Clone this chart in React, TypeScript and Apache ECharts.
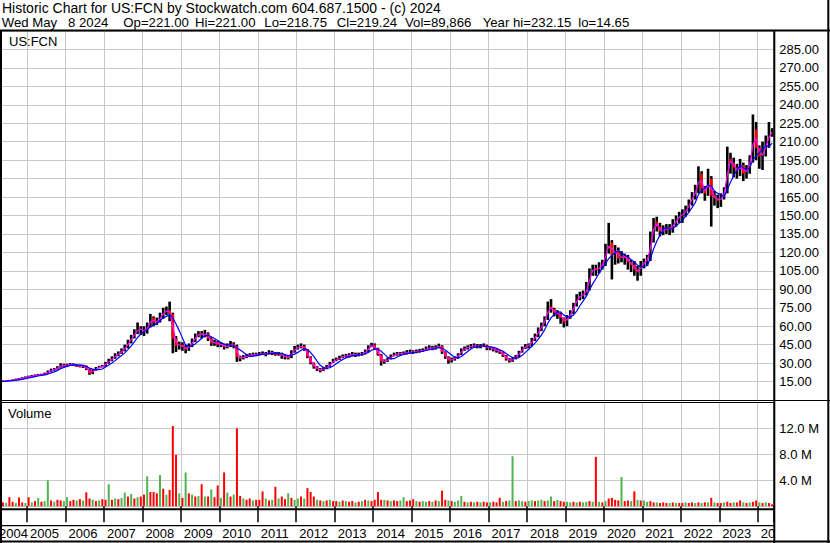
import React, { useEffect, useRef } from "react";
import * as echarts from "echarts";

// ---- data (monthly, May 2004 .. May 2024) ----
const START_YEAR = 2004;
const START_MONTH = 5; // May

const closes = [
  // 2004 (May-Dec)
  15.2, 15.5, 15.9, 16.2, 16.8, 17.3, 17.9, 18.6,
  // 2005
  19.0, 19.5, 20.0, 20.5, 20.5, 21.5, 23.0, 24.5, 25.0, 26.5, 28.5, 28.0,
  // 2006
  28.5, 29.0, 28.5, 28.0, 27.5, 27.5, 25.0, 21.5, 24.0, 26.0, 27.0, 27.5,
  // 2007
  30, 32, 34, 36.5, 38, 40, 43, 47, 51, 55, 58, 57,
  // 2008
  56, 60, 67, 63, 64, 68, 72, 73, 70, 50, 44, 45,
  // 2009
  43, 41, 44, 48, 52, 54, 53, 54, 50, 46, 47, 45,
  // 2010
  45.5, 43, 44, 46, 44, 35, 34, 35, 36, 36.5, 37, 37.2,
  // 2011
  37.5, 38, 37, 39, 38, 37.5, 37.8, 36, 35, 34.5, 39, 42,
  // 2012
  43, 44, 41, 35, 30, 27, 25, 24, 25.5, 27, 30, 32,
  // 2013
  33, 34.5, 35.5, 36, 36.2, 37.5, 36.5, 37, 37.5, 39.5, 43, 45,
  // 2014
  42, 37, 31, 31.5, 33, 35.5, 37, 37.5, 37.8, 38, 38.5, 39,
  // 2015
  39.2, 39.5, 40, 40.5, 42, 42.5, 42, 43, 44, 39, 35, 32,
  // 2016
  33, 34, 37, 41, 42, 43, 44, 44.2, 43.5, 44, 44.5, 42,
  // 2017
  42.5, 41, 40, 39, 36, 33, 32, 33, 35.5, 39, 42, 44,
  // 2018
  44.5, 49, 52, 57, 61, 66, 76, 74, 71, 70, 67, 63,
  // 2019
  67, 71, 77, 83, 85, 86, 90, 104, 107, 106, 108, 111,
  // 2020
  122, 128, 118, 122, 115, 117, 116, 112, 110, 106, 104, 110,
  // 2021
  112, 115, 132, 145, 141, 137, 138, 140, 139, 143, 147, 150,
  // 2022
  151, 155, 160, 166, 170, 184, 172, 168, 180, 166, 164, 162,
  // 2023
  164, 170, 196, 193, 189, 186, 191, 184, 187, 195, 220, 205,
  // 2024 (Jan-May)
  198, 200, 211, 216, 219.24,
];

const highs = [
  15.8, 16.0, 16.4, 16.8, 17.4, 17.9, 18.5, 19.2,
  19.8, 20.3, 20.8, 21.2, 21.4, 22.3, 24.0, 25.5, 26.0, 27.5, 29.8, 29.5,
  29.5, 30.0, 29.8, 29.2, 28.8, 28.6, 28.0, 25.5, 25.0, 26.8, 27.8, 28.5,
  31, 33.5, 35.5, 38, 39.5, 42, 45, 49, 53, 57.5, 63, 60,
  60, 63, 70, 68, 67, 71, 75, 76, 80, 71, 52, 47.5,
  47, 45, 46, 50, 54, 56, 56, 57, 55, 51, 49, 48,
  47, 46, 46, 48, 47, 45, 36, 36.5, 37.5, 38, 38.5, 38.5,
  39, 39.5, 39, 40.5, 40, 39, 39, 38.5, 37, 36.5, 40.5, 44,
  45, 46, 45, 41.5, 35.5, 30.5, 27.5, 26, 27, 28.5, 31, 33.5,
  34.5, 36, 37, 37.5, 38, 39, 38.5, 38.5, 39, 41, 44.5, 46.5,
  46, 42.5, 37.5, 33, 34.5, 37, 38.5, 39, 39, 39.5, 40.5, 41,
  40.5, 41, 41.5, 42, 43.5, 44.5, 44, 44.5, 45.8, 44.5, 39.5, 35.5,
  34.5, 35.5, 38, 42, 43.5, 44.5, 45.5, 46, 45.5, 45.5, 46, 45,
  43.5, 43, 41.5, 40.5, 39.5, 36.5, 34, 34.5, 36.5, 40, 43.5, 45.5,
  46, 50.5, 54, 59, 63, 68, 80, 82, 75, 73, 71, 67,
  69, 73, 79, 86, 88, 89, 96, 107, 110, 110, 112, 114,
  127, 144, 130, 126, 124, 121, 119, 118, 114, 113, 109, 113,
  115, 118, 137, 148, 149, 144, 142, 143, 143, 147, 150, 153,
  155, 158, 163, 169, 175, 190, 186, 174, 188, 182, 170, 167,
  168, 173, 206, 201, 197, 192, 196, 193, 191, 199, 232.15, 226,
  207, 210, 215, 226, 221,
];

const lows = [
  14.65, 14.9, 15.2, 15.6, 16.0, 16.5, 17.0, 17.6,
  18.2, 18.8, 19.2, 19.6, 19.6, 20.2, 21.2, 22.8, 23.8, 24.8, 26.3, 26.8,
  27.2, 27.8, 27.5, 27.0, 26.5, 26.0, 24.3, 20.5, 21.0, 23.8, 25.8, 26.5,
  27, 29.5, 31.5, 33.5, 35.5, 37.5, 39.5, 42, 46, 50, 53.5, 53,
  52, 54, 59, 60, 61, 63, 66, 69, 64, 38, 39, 41,
  40, 38, 40, 43, 47, 51, 50, 51, 48, 44, 44, 43,
  43, 41, 42, 43, 42, 31, 31.5, 33, 34, 35, 35.5, 35.5,
  36, 36.5, 35.5, 37, 36.5, 36, 36, 33.5, 33, 33, 34, 38.5,
  41, 42, 40, 34, 29, 25.5, 23.5, 22.5, 23.5, 25, 27, 30,
  31.5, 32.5, 34, 34.5, 34.5, 35.5, 35, 35.5, 36, 37, 39, 43,
  41, 36, 28, 29.5, 31, 33, 35.5, 36, 36, 36.5, 37, 37.5,
  37.5, 38, 38.5, 39, 40, 41, 40.5, 41, 42, 37.5, 33.5, 29.5,
  30.5, 32, 33.5, 36.5, 40, 41, 42, 42.5, 42, 42, 43, 40.5,
  40.5, 39.5, 38.5, 37.5, 35, 32, 30.5, 31, 33, 35, 38.5, 41.5,
  42, 43.5, 48, 51, 56, 60, 65, 71, 68, 66, 62, 59,
  60, 66, 70, 76, 81, 82, 85, 89, 101, 101, 103, 106,
  109, 119, 98, 110, 111, 112, 110, 106, 104, 101, 97, 101,
  107, 109, 113, 128, 137, 133, 134, 135, 134, 136, 141, 144,
  144, 149, 153, 158, 163, 168, 168, 162, 166, 141, 158, 156,
  157, 163, 168, 184, 181, 180, 182, 178, 180, 184, 193, 195,
  188, 187, 198, 205, 214,
];

// volume in millions of shares
const volumes = [
  0.6, 0.5, 1.4, 0.7, 0.5, 1.35, 0.6, 0.5,
  1.4, 0.6, 0.8, 1.3, 0.7, 0.8, 4.0, 0.9, 0.7, 1.0, 0.9, 0.8,
  1.4, 0.8, 1.0, 0.9, 1.1, 0.9, 2.15, 1.2, 1.0, 0.8, 0.9, 1.1,
  1.0, 3.4, 1.0, 1.2, 1.1, 1.3, 2.1, 1.5, 1.9, 1.2, 1.4, 1.5,
  1.8, 4.6, 2.2, 2.2, 2.0, 4.8, 2.7, 1.8, 2.5, 12.35, 7.9, 2.0,
  1.3, 5.2, 2.0, 1.8, 1.5, 1.6, 3.4, 1.5, 1.5, 2.6, 1.4, 3.2,
  1.3, 5.2, 2.1, 1.5, 1.8, 12.0, 1.6, 1.2, 1.0, 1.2, 0.9, 1.0,
  1.0, 2.3, 1.2, 0.9, 1.0, 3.0, 1.2, 1.5, 1.1, 2.0, 1.3, 1.0,
  1.2, 1.5, 1.2, 2.8, 2.2, 1.5, 1.0, 0.9, 0.8, 0.9, 1.0, 0.8,
  0.8, 0.7, 0.9, 0.8, 0.7, 0.8, 0.6, 0.7, 0.8, 1.0, 0.9, 0.8,
  1.0, 2.2, 1.0, 1.0, 0.9, 0.8, 0.9, 0.8, 0.9, 1.4, 0.8, 0.9,
  1.1, 0.8, 0.7, 0.8, 0.7, 0.8, 0.7, 0.9, 0.8, 2.4, 1.0, 0.9,
  0.8, 0.7, 0.9, 1.6, 0.7, 0.6, 0.7, 0.6, 0.7, 0.6, 0.7, 0.6,
  0.6, 0.7, 0.6, 1.3, 0.7, 0.8, 0.9, 7.7, 0.8, 0.9, 0.8, 0.7,
  0.8, 0.9, 0.8, 0.9, 1.0, 0.8, 0.9, 1.5, 0.8, 1.0, 0.8, 0.7,
  0.7, 0.6, 0.7, 0.6, 0.7, 0.6, 0.7, 0.8, 0.7, 7.6, 0.7, 0.6,
  0.8, 1.2, 1.3, 1.0, 0.9, 4.5, 0.8, 0.9, 0.8, 2.3, 1.0, 0.9,
  0.9, 0.7, 0.8, 0.6, 0.6, 0.5, 0.6, 0.5, 0.5, 0.6, 0.5, 0.5,
  0.5, 0.6, 0.5, 0.6, 0.5, 0.6, 0.5, 0.6, 0.6, 1.3, 0.6, 0.5,
  0.5, 0.6, 0.7, 0.5, 0.6, 0.6, 0.9, 0.6, 0.5, 0.6, 0.7, 0.9,
  0.6, 0.5, 0.6, 0.5, 0.3,
];

// r = down volume bar, g = up volume bar
const volumeDirections = [
  "rgrrgrrg",
  "rgrgrggrgrrg",
  "grrgrgrrgrgr",
  "rgrgrggrgrgr",
  "rgrrrgrgrrrg",
  "rgrgrgrgrgrr",
  "grgrgrrgrrgr",
  "rrgrgrgrrgrg",
  "grgrrrgrgrgr",
  "rgrgrrgrgrgr",
  "rrrgrgrrggrr",
  "rgrggrgrgrrg",
  "rgggrgrgrgrr",
  "grrrgrggrggr",
  "ggrggrggrgrr",
  "ggrgrggrgrgr",
  "grrrrgrrgrgr",
  "ggrrgrrrgrgr",
  "rgrrgrgrgrgr",
  "rgrrgrrgrgrr",
  "grgrr",
].join("");

const FIRST_OPEN = 15.0;
const TITLE_LINE_1 = "Historic Chart for US:FCN by Stockwatch.com 604.687.1500 - (c) 2024";
const QUOTE_FIELDS = [
  "Wed May",
  "8 2024",
  "Op=221.00",
  "Hi=221.00",
  "Lo=218.75",
  "Cl=219.24",
  "Vol=89,866",
  "Year hi=232.15",
  "lo=14.65",
];
const SYMBOL = "US:FCN";
const VOLUME_TITLE = "Volume";

// ---- layout helpers ----
const FONT = '"Liberation Sans", Arial, Helvetica, sans-serif';
const SHIFT = 12; // chart canvas starts 12px left of the page so that Jan 2004 can sit off-screen
const QUOTE_X = [1.7, 68, 123.3, 195, 264.3, 336.7, 405, 482.7, 578.3];

function monthPos(i: number): number {
  return START_YEAR + (START_MONTH - 1 + i + 0.5) / 12;
}

function movingAverage(values: number[], n: number): number[] {
  return values.map((_, i) => {
    const s = Math.max(0, i - n + 1);
    const w = values.slice(s, i + 1);
    return w.reduce((a, b) => a + b, 0) / w.length;
  });
}

function renderPriceBar(_params: any, api: any) {
  const x = api.value(0);
  const o = api.value(1);
  const c = api.value(2);
  const l = api.value(3);
  const h = api.value(4);
  const top = api.coord([x, h]);
  const bottom = api.coord([x, l]);
  const w = 2.6;
  const children: any[] = [
    {
      type: "rect",
      shape: { x: top[0] - w / 2, y: top[1], width: w, height: Math.max(1, bottom[1] - top[1]) },
      style: { fill: "#000000" },
    },
  ];
  if (c < o) {
    const po = api.coord([x, o]);
    const pc = api.coord([x, c]);
    children.push({
      type: "rect",
      shape: { x: po[0] - w / 2, y: po[1], width: w, height: Math.max(1.5, pc[1] - po[1]) },
      style: { fill: "#ff0000" },
    });
  }
  return { type: "group", children };
}

function buildOption() {
  const xs = closes.map((_, i) => monthPos(i));
  const bars = closes.map((c, i) => [
    xs[i],
    i === 0 ? FIRST_OPEN : closes[i - 1],
    c,
    lows[i],
    highs[i],
  ]);
  const maFast = movingAverage(closes, 2);
  const maSlow = movingAverage(closes, 5);
  const volData = volumes.map((v, i) => ({
    value: [xs[i], v],
    itemStyle: { color: volumeDirections[i] === "r" ? "#ff0000" : "#4fb34f" },
  }));

  const X_MIN = 2004;
  const X_MAX = 2024.405;
  const GRID_LEFT = SHIFT - 11.46;
  const GRID_RIGHT = 56.7;
  const gridColor = "#c8c8c8";

  const yearFormatter = (v: number) => {
    const r = Math.round(v);
    if (Math.abs(v - r) > 1e-6) return "";
    return r === X_MIN ? `{f|${r}}` : `{n|${r}}`;
  };

  const line = (x1: number, y1: number, x2: number, y2: number, w: number) => ({
    type: "line",
    silent: true,
    z: 100,
    shape: { x1: x1 + SHIFT, y1, x2: x2 + SHIFT, y2 },
    style: { stroke: "#000", lineWidth: w },
  });
  const text = (t: string, x: number, y: number, size: number, va: string) => ({
    type: "text",
    silent: true,
    z: 101,
    x: x + SHIFT,
    y,
    style: { text: t, font: `${size}px ${FONT}`, fill: "#000", verticalAlign: va },
  });

  return {
    animation: false,
    backgroundColor: "#ffffff",
    grid: [
      { left: GRID_LEFT, right: GRID_RIGHT, top: 31, bottom: 143 },
      { left: GRID_LEFT, right: GRID_RIGHT, top: 402.3, bottom: 36.7 },
    ],
    xAxis: [
      {
        type: "value",
        gridIndex: 0,
        min: X_MIN,
        max: X_MAX,
        interval: 1,
        axisLine: { show: false },
        axisTick: { show: false },
        axisLabel: { show: false },
        splitLine: { show: true, lineStyle: { color: gridColor, width: 1 } },
      },
      {
        type: "value",
        gridIndex: 1,
        min: X_MIN,
        max: X_MAX,
        interval: 1,
        offset: 3,
        axisLine: { show: false },
        axisTick: { show: true, length: 16, lineStyle: { color: "#000", width: 1.5 } },
        axisLabel: {
          show: true,
          margin: 18,
          align: "left",
          formatter: yearFormatter,
          rich: {
            n: { padding: [0, 0, 0, 3], fontSize: 13, fontFamily: FONT, color: "#000" },
            f: { padding: [0, 0, 0, 10.5], fontSize: 13, fontFamily: FONT, color: "#000" },
          },
        },
        splitLine: { show: true, lineStyle: { color: gridColor, width: 1 } },
      },
    ],
    yAxis: [
      {
        type: "value",
        gridIndex: 0,
        position: "right",
        min: 0,
        max: 300,
        interval: 15,
        axisLine: { show: false },
        axisTick: { show: false },
        splitLine: { show: true, lineStyle: { color: gridColor, width: 1 } },
        axisLabel: {
          margin: 6,
          fontSize: 13,
          fontFamily: FONT,
          color: "#000",
          formatter: (v: number) => (v <= 0 || v >= 300 ? "" : v.toFixed(2)),
        },
      },
      {
        type: "value",
        gridIndex: 1,
        position: "right",
        min: 0,
        max: 16,
        interval: 4,
        axisLine: { show: false },
        axisTick: { show: false },
        splitLine: { show: true, lineStyle: { color: gridColor, width: 1 } },
        axisLabel: {
          margin: 6,
          fontSize: 13,
          fontFamily: FONT,
          color: "#000",
          formatter: (v: number) => (v <= 0 || v >= 16 ? "" : v.toFixed(1) + " M"),
        },
      },
    ],
    series: [
      {
        type: "custom",
        xAxisIndex: 0,
        yAxisIndex: 0,
        data: bars,
        encode: { x: 0, y: [1, 2, 3, 4] },
        renderItem: renderPriceBar,
        clip: true,
      },
      {
        type: "line",
        xAxisIndex: 0,
        yAxisIndex: 0,
        data: xs.map((x, i) => [x, maFast[i]]),
        showSymbol: false,
        lineStyle: { color: "#ff00ff", width: 1.2 },
      },
      {
        type: "line",
        xAxisIndex: 0,
        yAxisIndex: 0,
        data: xs.map((x, i) => [x, maSlow[i]]),
        showSymbol: false,
        lineStyle: { color: "#0000ff", width: 1.2 },
      },
      {
        type: "bar",
        xAxisIndex: 1,
        yAxisIndex: 1,
        data: volData,
        barWidth: 2,
      },
    ],
    graphic: [
      text(TITLE_LINE_1, 2, 1, 14, "top"),
      ...QUOTE_FIELDS.map((f, i) => text(f, QUOTE_X[i], 16, 13.2, "top")),
      text(SYMBOL, 9, 41, 13, "middle"),
      text(VOLUME_TITLE, 8, 413, 13, "middle"),
      {
        type: "rect",
        silent: true,
        z: 99,
        shape: { x: 775.3 + SHIFT, y: 526.6, width: 52, height: 13.8 },
        style: { fill: "#fff" },
      },
      line(0, 30.5, 830, 30.5, 2),
      line(828.3, 0, 828.3, 543, 2),
      line(1, 30, 1, 543, 2),
      line(774.3, 30, 774.3, 543, 2),
      line(0, 400.5, 774, 400.5, 1),
      line(0, 402.5, 774, 402.5, 1),
      line(774, 400.5, 830, 400.5, 1),
      line(0, 509.3, 774, 509.3, 2),
      line(0, 525.7, 774, 525.7, 1.3),
      line(0, 541.5, 830, 541.5, 2),
    ],
  };
}

export default function App() {
  const ref = useRef<HTMLDivElement>(null);
  useEffect(() => {
    document.body.style.margin = "0";
    if (!ref.current) return;
    const chart = echarts.init(ref.current, null, { renderer: "svg" });
    chart.setOption(buildOption() as any);
    return () => chart.dispose();
  }, []);
  return (
    <div style={{ position: "relative", width: 830, height: 543, overflow: "hidden", background: "#fff" }}>
      <div
        ref={ref}
        style={{ position: "absolute", left: -SHIFT, top: 0, width: 830 + SHIFT, height: 543 }}
      />
    </div>
  );
}
